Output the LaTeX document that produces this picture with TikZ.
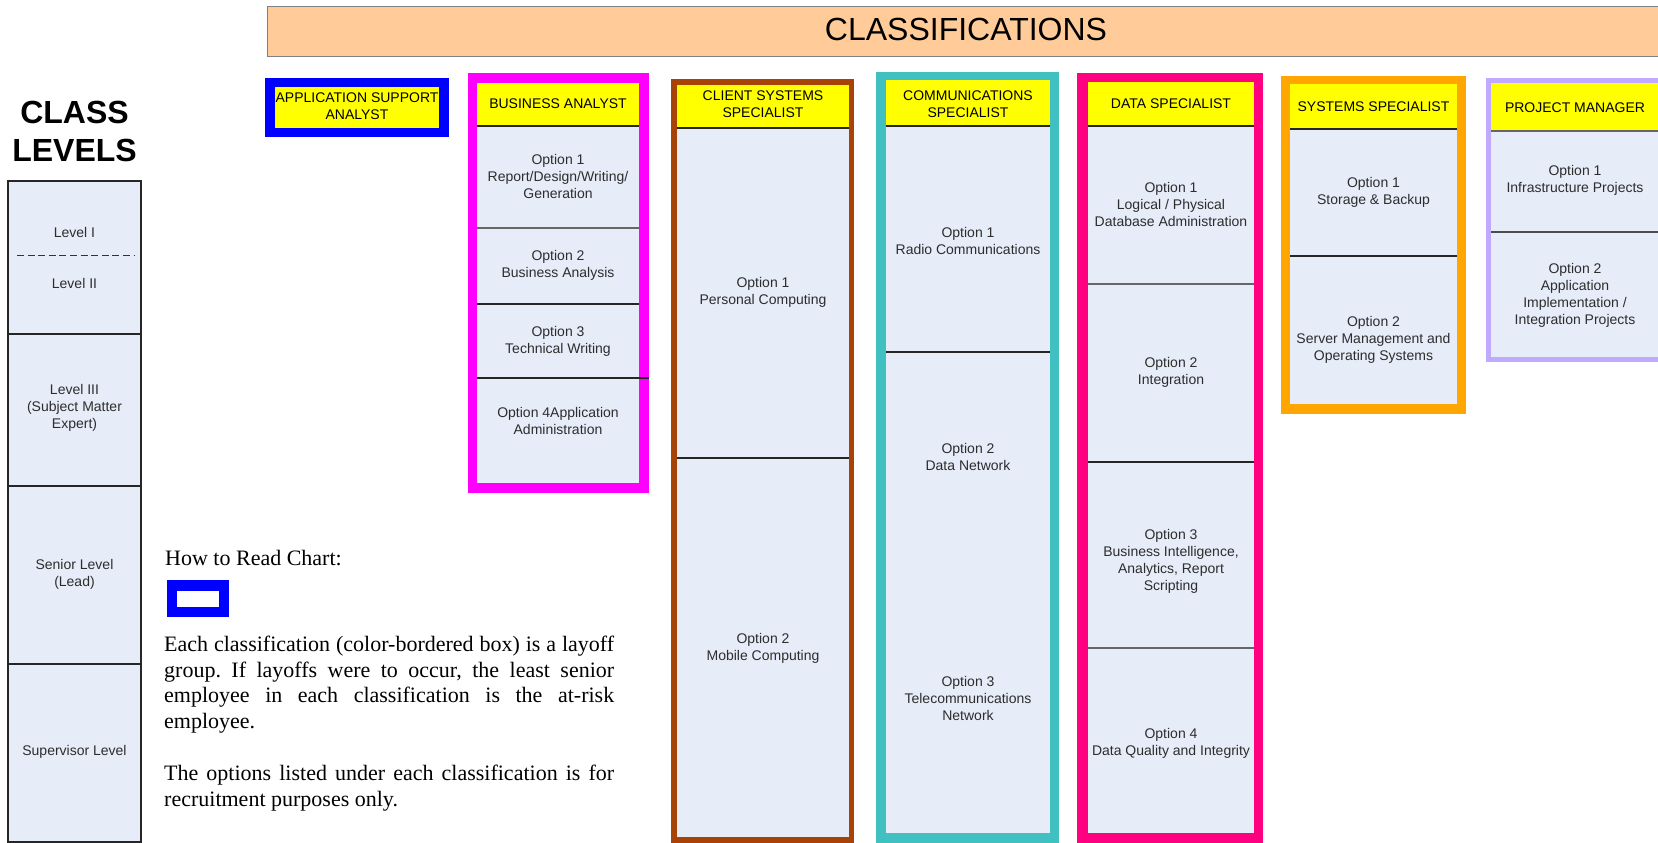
\documentclass[tikz,border=0pt]{standalone}
\usepackage{fontspec}
\setmainfont{Liberation Sans}
\newfontfamily\serifface{Liberation Serif}
\frenchspacing
\definecolor{cellfill}{RGB}{230,236,248}
\definecolor{hdryellow}{RGB}{255,255,0}
\definecolor{peach}{RGB}{255,204,153}
\definecolor{cblue}{RGB}{0,0,255}
\definecolor{cmag}{RGB}{255,0,255}
\definecolor{cbrown}{RGB}{168,67,8}
\definecolor{cteal}{RGB}{64,192,192}
\definecolor{cpink}{RGB}{255,0,128}
\definecolor{corange}{RGB}{255,166,0}
\definecolor{clav}{RGB}{192,170,255}
\definecolor{optgray}{RGB}{45,45,45}
\tikzset{
  opt/.style={font=\fontsize{14}{17}\selectfont, text=optgray, align=center, inner sep=0pt},
  hdr/.style={font=\fontsize{14}{17}\selectfont, text=black, align=center, inner sep=0pt},
  divider/.style={line width=1.6pt, draw=black!85},
  para/.style={font=\serifface\fontsize{22}{26}\selectfont, anchor=base west, inner sep=0pt, text=black},
  bigtitle/.style={font=\bfseries\fontsize{32}{38}\selectfont, inner sep=0pt},
}
\begin{document}
\begin{tikzpicture}[x=1pt,y=-1pt]
\useasboundingbox (0,0) rectangle (1658,843);
\clip (0,0) rectangle (1658,843);
\fill[white] (0,0) rectangle (1658,843);

% banner
\draw[draw=gray, fill=peach, line width=0.8pt] (267,6) rectangle (1690,56);
\draw[line width=1.5pt, draw=black!50] (267,56.5) -- (1690,56.5);
\node[font=\fontsize{32}{38}\selectfont, inner sep=0pt] (title) at (966,29) {CLASSIFICATIONS};

% class levels
\node[bigtitle] (cls) at (74.5,112) {CLASS};
\node[bigtitle] (lvls) at (74.5,150) {LEVELS};
\draw[fill=cellfill, draw=black!85, line width=1.4pt] (8,181) rectangle (141,842);
\draw[divider] (8,334) -- (141,334);
\draw[divider] (8,486) -- (141,486);
\draw[divider] (8,664) -- (141,664);
\draw[draw=black!80, line width=1pt, dash pattern=on 7pt off 3.6pt] (17,255) -- (134,255);
\node[opt] (l1) at (74.5,232) {Level I};
\node[opt] (l2) at (74.5,283) {Level II};
\node[opt] (l3) at (74.5,408) {Level III\\(Subject Matter\\Expert)};
\node[opt] (l4) at (74.5,574.5) {Senior Level\\(Lead)};
\node[opt] (l5) at (74.5,752) {Supervisor Level};

% application support analyst
\fill[cblue] (265,78) rectangle (449,137);
\fill[hdryellow] (275,87) rectangle (439,128);
\node[hdr] (asa) at (357,106.5) {APPLICATION SUPPORT\\ANALYST};

% business analyst
\fill[cmag] (468,73) rectangle (649,493);
\fill[cellfill] (477,83) rectangle (639,483);
\fill[hdryellow] (477,83) rectangle (639,126);
\draw[divider] (477,126) -- (639,126);
\draw[divider, draw=black!60] (477,228) -- (639,228);
\draw[divider] (477,304) -- (639,304);
\draw[divider, line width=2.2pt] (477,378) -- (649,378);
\node[hdr] (bah) at (558,104) {BUSINESS ANALYST};
\node[opt] (ba1) at (558,176.5) {Option 1\\Report/Design/Writing/\\Generation};
\node[opt] (ba2) at (558,265.5) {Option 2\\Business Analysis};
\node[opt] (ba3) at (558,341.5) {Option 3\\Technical Writing};
\node[opt] (ba4) at (558,420.5) {Option 4Application\\Administration};

% client systems specialist
\fill[cbrown] (671,79) rectangle (854,843);
\fill[cellfill] (677,85) rectangle (849,837);
\fill[hdryellow] (677,85) rectangle (849,128);
\draw[divider] (677,128) -- (849,128);
\draw[divider] (677,458) -- (849,458);
\node[hdr] (csh) at (763,104.5) {CLIENT SYSTEMS\\SPECIALIST};
\node[opt] (cs1) at (763,292.5) {Option 1\\Personal Computing};
\node[opt] (cs2) at (763,648.5) {Option 2\\Mobile Computing};

% communications specialist
\fill[cteal] (876,72) rectangle (1059,843);
\fill[cellfill] (886,80) rectangle (1050,833);
\fill[hdryellow] (886,80) rectangle (1050,126);
\draw[divider] (886,126) -- (1050,126);
\draw[divider] (886,352) -- (1050,352);
\node[hdr] (cmh) at (968,104) {COMMUNICATIONS\\SPECIALIST};
\node[opt] (cm1) at (968,240.5) {Option 1\\Radio Communications};
\node[opt] (cm2) at (968,456.5) {Option 2\\Data Network};
\node[opt] (cm3) at (968,698) {Option 3\\Telecommunications\\Network};

% data specialist
\fill[cpink] (1077,73) rectangle (1263,843);
\fill[cellfill] (1088,82) rectangle (1254,833);
\fill[hdryellow] (1088,82) rectangle (1254,126);
\draw[divider] (1088,126) -- (1254,126);
\draw[divider, draw=black!60] (1088,284) -- (1254,284);
\draw[divider] (1088,462) -- (1254,462);
\draw[divider, draw=black!60] (1088,648) -- (1254,648);
\node[hdr] (dsh) at (1171,104) {DATA SPECIALIST};
\node[opt] (ds1) at (1171,204.5) {Option 1\\Logical / Physical\\Database Administration};
\node[opt] (ds2) at (1171,372.5) {Option 2\\Integration};
\node[opt] (ds3) at (1171,561.5) {Option 3\\Business Intelligence,\\Analytics, Report\\Scripting};
\node[opt] (ds4) at (1171,743) {Option 4\\Data Quality and Integrity};

% systems specialist
\fill[corange] (1281,76) rectangle (1466,414);
\fill[cellfill] (1290,84) rectangle (1457,404);
\fill[hdryellow] (1290,84) rectangle (1457,129);
\draw[divider] (1290,129) -- (1457,129);
\draw[divider] (1290,256) -- (1457,256);
\node[hdr] (ssh) at (1373.5,107) {SYSTEMS SPECIALIST};
\node[opt] (ss1) at (1373.5,192) {Option 1\\Storage \& Backup};
\node[opt] (ss2) at (1373.5,339.5) {Option 2\\Server Management and\\Operating Systems};

% project manager
\fill[clav] (1486,78) rectangle (1680,362);
\fill[cellfill] (1491,83) rectangle (1680,357);
\fill[hdryellow] (1491,83) rectangle (1680,131);
\draw[divider, draw=black!60] (1491,131) -- (1680,131);
\draw[divider, draw=black!70] (1491,232) -- (1680,232);
\node[hdr] (pmh) at (1575,108) {PROJECT MANAGER};
\node[opt] (pm1) at (1575,180.5) {Option 1\\Infrastructure Projects};
\node[opt] (pm2) at (1575,295) {Option 2\\Application\\Implementation /\\Integration Projects};

% how to read
\node[para] (howto) at (165,565) {How to Read Chart:};
\fill[cblue] (167,580) rectangle (229,617);
\fill[white] (177,591) rectangle (219,607);
\node[para] (p1) at (164,651) {\makebox[450pt][s]{Each classification (color-bordered box) is a layoff}};
\node[para] (p2) at (164,677) {\makebox[450pt][s]{group. If layoffs were to occur, the least senior}};
\node[para] (p3) at (164,702) {\makebox[450pt][s]{employee in each classification is the at-risk}};
\node[para] (p4) at (164,728) {employee.};
\node[para] (p5) at (164,780) {\makebox[450pt][s]{The options listed under each classification is for}};
\node[para] (p6) at (164,806) {recruitment purposes only.};
\end{tikzpicture}
\end{document}
